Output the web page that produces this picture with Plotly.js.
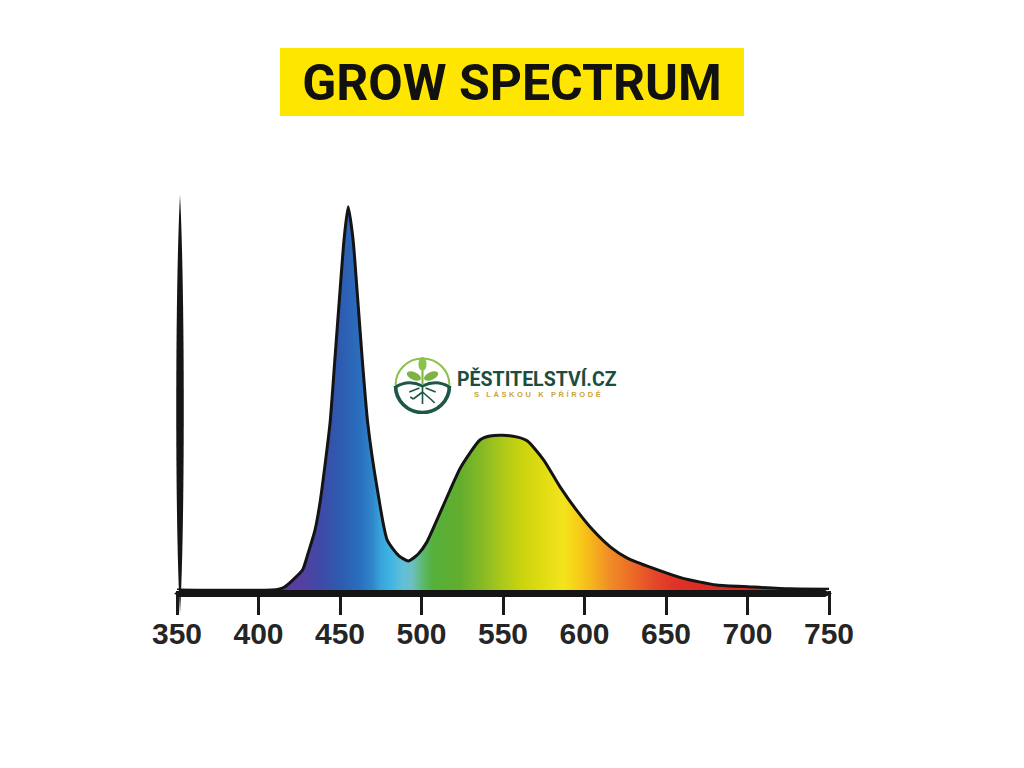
<!DOCTYPE html>
<html>
<head>
<meta charset="utf-8">
<script src="https://cdn.plot.ly/plotly-3.0.1.min.js"></script>
<style>
  html, body { margin: 0; padding: 0; background: #fff; }
  #chart { width: 1024px; height: 768px; }
  .annotation[data-index="1"] .annotation-text { letter-spacing: 2.6px; }
</style>
</head>
<body>
<div id="chart"></div>
<script>
// ---- data ----
const titleText = "GROW SPECTRUM";
const brandName = "PĚSTITELSTVÍ.CZ";
const brandSlogan = "S LÁSKOU K PŘÍRODĚ";

const wavelength = [350, 408, 413, 416, 421, 427, 430.5, 434.7, 437.7, 440.8, 443.9, 447, 450, 452.5, 455, 458, 460.5, 463.5, 467, 473, 479, 486, 492, 498, 503, 513, 524, 536, 542, 550, 559, 565, 575, 585, 595, 605, 616, 626, 642, 660, 681, 702, 726, 750];
const intensity  = [0,   0,   0.3, 0.8, 2.6, 5.2, 9.7,   15.7,  22.7,  32.6,  43.6,  61, 78, 91.5, 100, 91.5, 78, 61, 43.6, 26, 13, 9, 7.6, 9.4, 12.3, 21.7, 32, 39.2, 40.2, 40.4, 39.9, 38.9, 33.9, 26.9, 20.9, 15.7, 11.2, 8.4, 5.7, 3.1, 1.3, 0.8, 0.3, 0.2];

const tickValues = [350, 400, 450, 500, 550, 600, 650, 700, 750];
const tickLabels = ["350", "400", "450", "500", "550", "600", "650", "700", "750"];

const spectrumStops  = [0, 0.046, 0.082, 0.118, 0.154, 0.177, 0.19, 0.208, 0.231, 0.249, 0.267, 0.286, 0.334, 0.383, 0.406, 0.442, 0.484, 0.52, 0.545, 0.574, 0.605, 0.646, 0.682, 0.719, 0.767, 1];
const spectrumColors = ["#5a3d9c", "#553fa0", "#3f4aa6", "#2e5bb0", "#2a6fbf", "#3087cb", "#37a2d9", "#3fb4e3", "#5fc0d8", "#6cbfc0", "#5db86d", "#55b03a", "#62ad2e", "#8fbd22", "#a8c71c", "#c8d20e", "#e0dc14", "#f3e41e", "#f7d018", "#f5b21c", "#f08c26", "#ec6a28", "#e44a2a", "#e03428", "#dc2c24", "#d82a22"];

// ---- layout helpers ----
const W = 1024, H = 768;
const M = { l: 177, r: 195, t: 180, b: 178 };
const PW = W - M.l - M.r, PH = H - M.t - M.b;
const px2x = px => (px - M.l) / PW;
const py2y = py => (H - M.b - py) / PH;

const colorscale = spectrumStops.map((s, i) => [s, spectrumColors[i]]);

const trace = {
  type: "scatter",
  x: wavelength,
  y: intensity,
  mode: "lines",
  line: { color: "#141414", width: 3, shape: "spline", smoothing: 0.6 },
  fill: "tozeroy",
  fillgradient: { type: "horizontal", start: 410, stop: 750, colorscale: colorscale },
  hoverinfo: "skip",
  showlegend: false
};

const logoSvg =
  '<svg xmlns="http://www.w3.org/2000/svg" viewBox="0 0 60 60">' +
  '<path d="M3.5,31 A26.5,26.5 0 0 1 56.5,31" fill="none" stroke="#8dc04a" stroke-width="2"/>' +
  '<path d="M3.5,32 A26.5,26.5 0 0 0 56.5,32" fill="none" stroke="#1d5747" stroke-width="3.6"/>' +
  '<path d="M3.5,33 Q16,25 30,32 Q44,25 56.5,33" fill="none" stroke="#1d5747" stroke-width="3"/>' +
  '<path d="M30,32 L30,50 M30,38 L21,45 M30,38 L39,46 M27,34 L17,38 M33,34 L43,38 M21,45 L18,43 M39,46 L42,49" fill="none" stroke="#1d5747" stroke-width="1.6"/>' +
  '<path d="M30,31 L30,17" stroke="#7cb342" stroke-width="2"/>' +
  '<ellipse cx="30" cy="10" rx="4" ry="7" fill="#8bc34a"/>' +
  '<ellipse cx="21.5" cy="22" rx="7.5" ry="3.8" fill="#7cb342" transform="rotate(25 21.5 22)"/>' +
  '<ellipse cx="38.5" cy="22" rx="7.5" ry="3.8" fill="#7cb342" transform="rotate(-25 38.5 22)"/>' +
  '</svg>';

const layout = {
  width: W, height: H,
  margin: { l: M.l, r: M.r, t: M.t, b: M.b, pad: 0 },
  paper_bgcolor: "#ffffff",
  plot_bgcolor: "#ffffff",
  showlegend: false,
  title: {
    text: titleText,
    font: { family: "Roboto, Liberation Sans, sans-serif", size: 50, weight: 700, color: "#111111" },
    x: 0.5, xref: "container", xanchor: "center",
    y: 1 - 82 / H, yref: "container", yanchor: "middle"
  },
  xaxis: {
    range: [350, 750],
    tickmode: "array", tickvals: tickValues, ticktext: tickLabels,
    ticks: "outside", ticklen: 24, tickwidth: 3, tickcolor: "#1a1a1a",
    ticklabelstandoff: -7,
    showline: false, showgrid: false, zeroline: false,
    tickfont: { family: "Liberation Sans, Arial, sans-serif", size: 30, weight: 700, color: "#252525" },
    fixedrange: true
  },
  yaxis: { range: [0, 107], visible: false, fixedrange: true },
  shapes: [
    { type: "rect", xref: "paper", yref: "paper",
      x0: px2x(280), x1: px2x(744), y0: py2y(116), y1: py2y(48),
      fillcolor: "#ffe600", line: { width: 0 }, layer: "below" },
    { type: "path", xref: "paper", yref: "paper",
      xsizemode: "pixel", xanchor: 0, ysizemode: "pixel", yanchor: 0,
      path: "M3,395 C8,300 8,60 3,-23 C-2,60 -2,300 3,395 Z",
      fillcolor: "#151515", line: { width: 0 }, layer: "above" },
    { type: "path", xref: "paper", yref: "paper",
      xsizemode: "pixel", xanchor: 0, ysizemode: "pixel", yanchor: 0,
      path: "M-3,-3.5 L3,0 L648,0 L655,-3.5 L648,-7 L3,-7 Z",
      fillcolor: "#151515", line: { width: 0 }, layer: "above" }
  ],
  images: [
    { source: "data:image/svg+xml;charset=utf-8," + encodeURIComponent(logoSvg),
      xref: "paper", yref: "paper",
      x: px2x(392), y: py2y(354), sizex: 61 / PW, sizey: 60 / PH,
      xanchor: "left", yanchor: "top", sizing: "stretch", layer: "above" }
  ],
  annotations: [
    { text: brandName, xref: "paper", yref: "paper",
      x: px2x(455), y: py2y(379), xanchor: "left", yanchor: "middle", showarrow: false,
      font: { family: "Roboto, Liberation Sans, sans-serif", size: 19.5, weight: 700, color: "#1c4e40" } },
    { text: brandSlogan, xref: "paper", yref: "paper", align: "left",
      x: px2x(472), y: py2y(394), xanchor: "left", yanchor: "middle", showarrow: false,
      font: { family: "Liberation Sans, Arial, sans-serif", size: 7.5, weight: 700, color: "#c9a43a" } }
  ]
};

Plotly.newPlot("chart", [trace], layout, { displayModeBar: false, staticPlot: true });
</script>
</body>
</html>
